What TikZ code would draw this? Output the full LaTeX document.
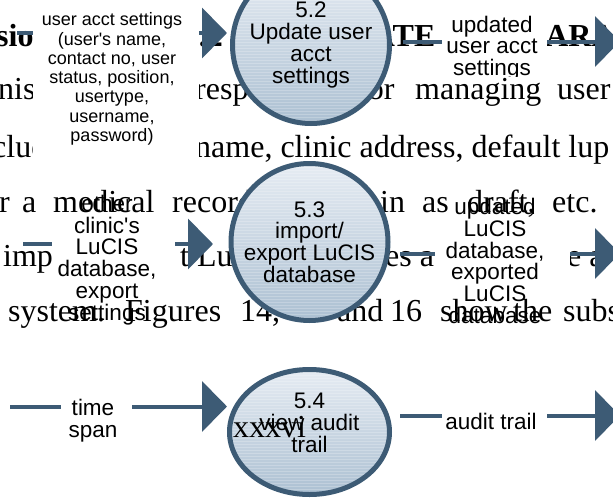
\documentclass[tikz,border=0pt]{standalone}
\usepackage{fontspec}
\setmainfont{Liberation Serif}
\newfontfamily\lsans{Liberation Sans}
\usetikzlibrary{arrows.meta,shapes.geometric}
\definecolor{dfdblue}{HTML}{3D5B75}
\definecolor{ctop}{HTML}{E6ECF3}
\definecolor{cbot}{HTML}{ACC0D2}
\tikzset{
  bg/.style={anchor=base west, inner sep=0pt, font=\fontsize{32}{36}\selectfont},
  bgb/.style={anchor=base west, inner sep=0pt, font=\fontsize{32}{36}\selectfont\bfseries},
  proctext/.style={inner sep=0pt, align=center, font=\lsans\fontsize{22.5}{21.7}\selectfont},
  proc/.style={circle, draw=dfdblue, line width=5pt, top color=ctop, bottom color=cbot,
    minimum size=157pt, inner sep=0pt, align=center, font=\lsans\fontsize{22.5}{21.7}\selectfont,
    path picture={\foreach \k in {-84,-81,...,84}
      \draw[white, opacity=.22, line width=.6pt]
        ([yshift=\k pt]path picture bounding box.west) -- ([yshift=\k pt]path picture bounding box.east);}},
  flow/.style={draw=dfdblue, line width=4pt, -{Triangle[length=25pt,width=50pt]}},
  lbl/.style={inner sep=0pt, align=center, font=\lsans\fontsize{22.5}{21.8}\selectfont},
  mask/.style={fill=white},
}
\begin{document}
\begin{tikzpicture}[x=1pt,y=-1pt]
\useasboundingbox (0,0) rectangle (613,498);
\fill[white] (0,0) rectangle (613,498);

% ---- page text behind the diagram ----
\node[bgb] (h1) at (-4,46) {sion};
\node[bgb, anchor=base east] (h2) at (223,46) {5.2};
\node[bgb] (h3) at (306,46) {UPDATE};
\node[bgb] (h4) at (528,46) {PARAMETERS};

\node[bg] (r2a) at (-2,99) {nis};
\node[bg] (r2b) at (195,99) {resp};
\node[bg] (r2c) at (357,99) {for};
\node[bg] (r2d) at (415,99) {managing};
\node[bg] (r2e) at (557,99) {user};

\node[bg] (r3a) at (-8,157) {cludes};
\node[bg] (r3b) at (195,157) {name, clinic address, default lup};

\node[bg] (r4a) at (-1,212) {r};
\node[bg] (r4b) at (22,212) {a};
\node[bg] (r4c) at (53,212) {medical};
\node[bg] (r4d) at (172,212) {record};
\node[bg] (r4e) at (380,212) {in};
\node[bg] (r4f) at (422,212) {as};
\node[bg] (r4g) at (467,212) {draft,};
\node[bg] (r4h) at (552,212) {etc.};

\node[bg] (r5a) at (3,266) {import};
\node[bg] (r5b) at (180,266) {t LuCIS};
\node[bg] (r5c) at (385,266) {es a};
\node[bg] (r5d) at (567,266) {e a};

\node[bg] (r6a) at (8,321) {system.};
\node[bg] (r6b) at (125,321) {Figures};
\node[bg] (r6c) at (240,321) {14,};
\node[bg] (r6d) at (337,321) {and};
\node[bg] (r6e) at (390,321) {16};
\node[bg] (r6f) at (440,321) {show};
\node[bg] (r6g) at (513,321) {the};
\node[bg] (r6h) at (563,321) {subsystem};

% ---- processes ----
\node[proc] (p52) at (311,45) {5.2\\Update user\\acct\\settings};
\node[proc] (p53) at (309.5,242) {5.3\\import/\\export LuCIS\\database};
\node[proc, ellipse, minimum width=160pt, minimum height=125pt] (p54) at (309.5,432) {};
\node[proctext] (t54) at (309.5,423) {5.4\\view audit\\trail};

% ---- data flows ----
\coordinate (a1s) at (17,33);     \coordinate (a1e) at (227,33);
\coordinate (b1s) at (403,41.5);  \coordinate (b1e) at (620,41.5);
\coordinate (a2s) at (23,244);    \coordinate (a2e) at (213,244);
\coordinate (b2s) at (400,253.5); \coordinate (b2e) at (620,253.5);
\coordinate (a3s) at (10,406.5);  \coordinate (a3e) at (227,406.5);
\coordinate (b3s) at (400,415.5); \coordinate (b3e) at (620,415.5);
\draw[flow] (a1s) -- (a1e);
\draw[flow] (b1s) -- (b1e);
\draw[flow] (a2s) -- (a2e);
\draw[flow] (b2s) -- (b2e);
\draw[flow] (a3s) -- (a3e);
\draw[flow] (b3s) -- (b3e);

% ---- label backgrounds ----
\fill[mask] (33,-2) rectangle (199,170);
\fill[mask] (442,5) rectangle (547,76);
\fill[mask] (52,224) rectangle (175,298);
\fill[mask] (435,226) rectangle (570,297);
\fill[mask] (61,392) rectangle (132,446);
\fill[mask] (442,400) rectangle (547,432);

% ---- flow labels ----
\node[lbl, font=\lsans\fontsize{18}{19.3}\selectfont] (l1) at (112,79)
  {user acct settings\\(user\textquotesingle s name,\\contact no, user\\status, position,\\usertype,\\username,\\password)};
\begin{scope}
  \clip (442,5) rectangle (547,76);
  \node[lbl] (l2) at (492,48) {updated\\user acct\\settings};
\end{scope}
\node[lbl] (l3) at (107,260) {other\\clinic\textquotesingle s\\LuCIS\\database,\\export\\settings};
\node[lbl] (l4) at (495,261) {updated\\LuCIS\\database,\\exported\\LuCIS\\database};
\node[lbl] (l5) at (93,421) {time\\span};
\node[lbl] (l6) at (491,421) {audit trail};

% ---- page number ----
\node[bg] (pg) at (233,437) {xxxvi};
\end{tikzpicture}
\end{document}
